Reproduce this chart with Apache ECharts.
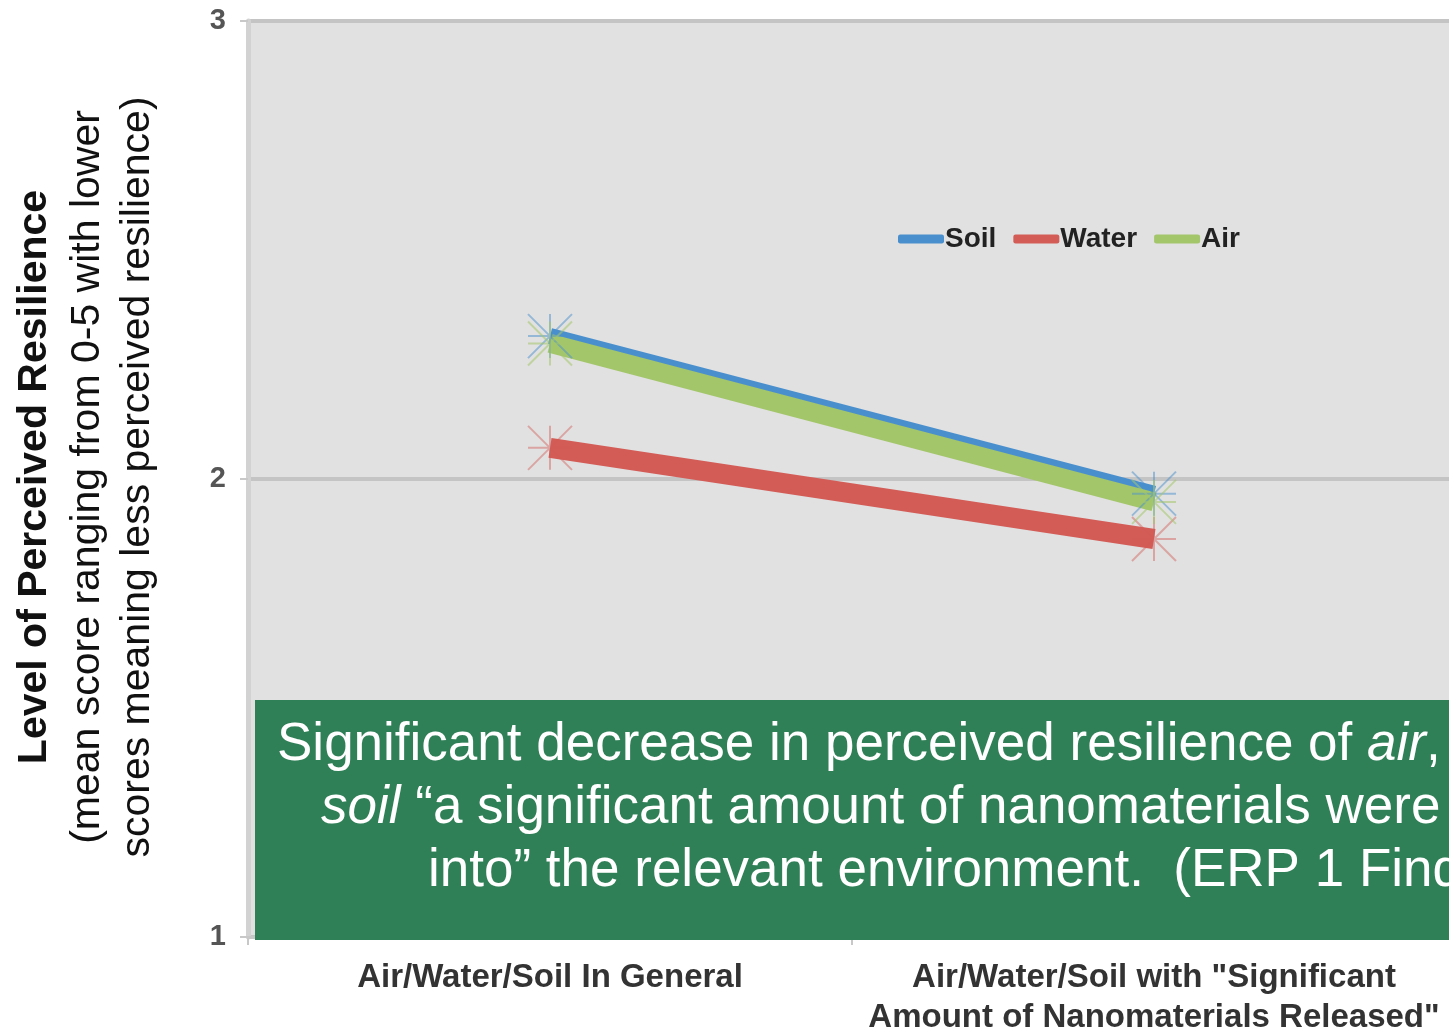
<!DOCTYPE html>
<html>
<head>
<meta charset="utf-8">
<script src="https://cdn.jsdelivr.net/npm/echarts@6/dist/echarts.min.js"></script>
<style>
html,body{margin:0;padding:0;background:#ffffff;}
#chart{width:1449px;height:1032px;}
</style>
</head>
<body>
<div id="chart"></div>
<script>
const categories = ['Air/Water/Soil In General', 'Air/Water/Soil with "Significant\nAmount of Nanomaterials Released"'];
const seriesNames = ['Soil', 'Water', 'Air'];
const soilValues = [2.312, 1.968];
const waterValues = [2.068, 1.869];
const airValues = [2.296, 1.950];
const yMin = 1, yMax = 3, yInterval = 1;
const yTitleLines = ['Level of Perceived Resilience', '(mean score ranging from 0-5 with lower', 'scores meaning less perceived resilience)'];
const noteLines = [
  'Significant decrease in perceived resilience of {i|air}, {i|water}, and',
  '{i|soil} \u201ca significant amount of nanomaterials were released',
  'into\u201d the relevant environment.  (ERP 1 Findings)'
];

const FONT = "'Liberation Sans', Arial, Helvetica, sans-serif";
const chart = echarts.init(document.getElementById('chart'), null, {renderer: 'canvas'});
const star = 'path://M0,0L10,10M10,0L0,10M5,0L5,10M0,5L10,5';

function mk(name, data, color, width, markColor) {
  return {
    name: name, type: 'line', data: data,
    symbol: star, symbolSize: 44, showSymbol: true,
    itemStyle: {color: color, borderColor: markColor, borderWidth: 2},
    lineStyle: {color: color, width: width, cap: 'butt'},
    emphasis: {disabled: true},
    animation: false
  };
}

chart.setOption({
  animation: false,
  color: ['#4a8fcd', '#d35c57', '#a4c66b'],
  grid: {left: 248, top: 21, bottom: 95, right: -7, show: true, backgroundColor: '#e1e1e1', borderWidth: 0,
         containLabel: false, outerBoundsMode: 'none'},
  legend: {
    data: seriesNames,
    left: 893, top: 220,
    icon: 'roundRect', itemWidth: 46, itemHeight: 9, itemGap: 17,
    itemStyle: {borderWidth: 0},
    textStyle: {fontFamily: FONT, fontWeight: 'bold', fontSize: 28, color: '#222', padding: [0,0,0,-4]}
  },
  xAxis: {
    type: 'category', data: categories, boundaryGap: true,
    axisLine: {show: true, lineStyle: {color: '#c8c8c8', width: 3}},
    axisTick: {show: true, length: 8, lineStyle: {color: '#c8c8c8', width: 2}},
    axisLabel: {fontFamily: FONT, fontWeight: 'bold', fontSize: 33, color: '#333', margin: 21, lineHeight: 40, interval: 0}
  },
  yAxis: {
    type: 'value', min: yMin, max: yMax, interval: yInterval,
    axisLine: {show: true, lineStyle: {color: '#d2d2d2', width: 5}},
    axisTick: {show: true, length: 8, lineStyle: {color: '#c8c8c8', width: 2}},
    axisLabel: {fontFamily: FONT, fontWeight: 'bold', fontSize: 29, color: '#555', margin: 22},
    splitLine: {show: true, lineStyle: {color: '#c4c4c4', width: 4}}
  },
  series: [
    mk(seriesNames[0], soilValues, '#4a8fcd', 16, 'rgba(74,143,205,0.5)'),
    mk(seriesNames[1], waterValues, '#d35c57', 20, 'rgba(211,92,87,0.45)'),
    mk(seriesNames[2], airValues, '#a4c66b', 19, 'rgba(164,198,107,0.55)')
  ],
  graphic: [
    {type: 'text', x: 35, y: 477, rotation: Math.PI/2,
     style: {text: yTitleLines[0], font: 'bold 41px ' + FONT, fill: '#111', align: 'center', verticalAlign: 'middle'}},
    {type: 'text', x: 88, y: 477, rotation: Math.PI/2,
     style: {text: yTitleLines[1], font: '41px ' + FONT, fill: '#111', align: 'center', verticalAlign: 'middle'}},
    {type: 'text', x: 138, y: 477, rotation: Math.PI/2,
     style: {text: yTitleLines[2], font: '41px ' + FONT, fill: '#111', align: 'center', verticalAlign: 'middle'}},
    {type: 'rect', shape: {x: 255, y: 700, width: 1200, height: 240}, style: {fill: '#2f7f57'}, z: 100},
    {type: 'text', x: 277, y: 745, z: 101,
     style: {text: noteLines[0], font: '53px ' + FONT, fill: '#ffffff', align: 'left', verticalAlign: 'middle',
             rich: {i: {fontStyle: 'italic', fontSize: 53, fontFamily: FONT, fill: '#ffffff'}}}},
    {type: 'text', x: 321, y: 808, z: 101,
     style: {text: noteLines[1], font: '53px ' + FONT, fill: '#ffffff', align: 'left', verticalAlign: 'middle',
             rich: {i: {fontStyle: 'italic', fontSize: 53, fontFamily: FONT, fill: '#ffffff'}}}},
    {type: 'text', x: 428, y: 871, z: 101,
     style: {text: noteLines[2], font: '53px ' + FONT, fill: '#ffffff', align: 'left', verticalAlign: 'middle'}}
  ]
});
</script>
</body>
</html>
